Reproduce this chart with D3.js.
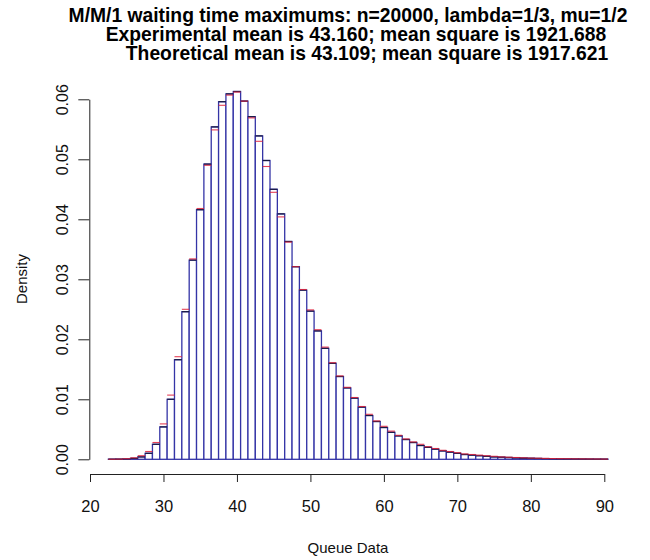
<!DOCTYPE html>
<html><head><meta charset="utf-8">
<script src="https://cdn.jsdelivr.net/npm/d3@7"></script>
<style>
body{margin:0;background:#fff;}
text{font-family:"Liberation Sans",Arial,Helvetica,sans-serif;}
</style>
</head><body>
<svg id="chart" width="650" height="560"></svg>
<script>
const bins = d3.range(23, 91);
const experimental = [0.00002,0.00003,0.00006,0.00015,0.0004,0.0010,0.0025,0.0054,0.0100,0.0166,
0.0246,0.0332,0.0416,0.0492,0.0554,0.0596,0.0609,0.0613,0.0597,0.0571,
0.0539,0.0498,0.0450,0.0409,0.0363,0.0321,0.0282,0.0247,0.0214,0.0185,
0.0160,0.0138,0.0119,0.0102,0.0087,0.0073,0.0063,0.0053,0.0045,0.0039,
0.0033,0.0028,0.0023,0.0020,0.0017,0.0014,0.0012,0.0010,0.0008,0.0007,
0.0006,0.0005,0.0004,0.00035,0.0003,0.00025,0.0002,0.00017,0.00014,0.00012,
0.0001,0.00008,0.00007,0.00006,0.00005,0.00004,0.00003,0.00003];
const theoretical = [0.00001,0.00003,0.0001,0.00025,0.0006,0.0013,0.0028,0.0059,0.0107,0.0171,
0.0250,0.0334,0.0418,0.0490,0.0549,0.0590,0.0607,0.0612,0.0597,0.0569,
0.0530,0.0488,0.0445,0.0404,0.0362,0.0321,0.0283,0.0249,0.0216,0.0187,
0.0161,0.0139,0.0120,0.0103,0.0088,0.0075,0.0064,0.0055,0.0047,0.0040,
0.0034,0.0029,0.0025,0.0021,0.0018,0.0015,0.0013,0.0011,0.0009,0.0008,
0.0007,0.0006,0.0005,0.0004,0.00035,0.0003,0.00025,0.0002,0.00018,0.00015,
0.00013,0.00011,0.0001,0.00008,0.00007,0.00006,0.00005,0.00004];
const xTicks = [20,30,40,50,60,70,80,90];
const yTicks = [0,0.01,0.02,0.03,0.04,0.05,0.06];
const titleLines = ["M/M/1 waiting time maximums: n=20000, lambda=1/3, mu=1/2",
 "Experimental mean is 43.160; mean square is 1921.688",
 "Theoretical mean is 43.109; mean square is 1917.621"];

const svg = d3.select("#chart");
const x = d3.scaleLinear().domain([20, 90]).range([90, 604.3]);
const y = d3.scaleLinear().domain([0, 0.06]).range([459.3, 99.3]);

const data = bins.map((b, i) => ({b, e: experimental[i], t: theoretical[i]}));

// bars
svg.append("g").selectAll("rect").data(data).join("rect")
  .attr("x", d => x(d.b - 0.5))
  .attr("y", d => y(d.e))
  .attr("width", d => x(d.b + 0.5) - x(d.b - 0.5))
  .attr("height", d => y(0) - y(d.e))
  .attr("fill", "#fff")
  .attr("stroke", "#3434a6")
  .attr("stroke-width", 1.3);

// dark tops
svg.append("g").selectAll("line").data(data).join("line")
  .attr("x1", d => x(d.b - 0.5)).attr("x2", d => x(d.b + 0.5))
  .attr("y1", d => y(d.e)).attr("y2", d => y(d.e))
  .attr("stroke", "#1a1a40").attr("stroke-width", 1.2);

// theoretical red segments
svg.append("g").selectAll("line").data(data).join("line")
  .attr("x1", d => x(d.b - 0.5)).attr("x2", d => x(d.b + 0.5))
  .attr("y1", d => y(d.t)).attr("y2", d => y(d.t))
  .attr("stroke", "#e0203a").attr("stroke-width", 1.1).attr("opacity", 0.85);

// x axis
const xa = svg.append("g").attr("transform", "translate(0,474)")
  .call(d3.axisBottom(x).tickValues(xTicks).tickFormat(d3.format("d"))
    .tickSize(8).tickSizeOuter(0).tickPadding(18));
xa.select(".domain").attr("stroke", "#222");
xa.selectAll(".tick line").attr("stroke", "#222");
xa.selectAll("text").attr("font-size", 16.5).attr("fill", "#111")
  .attr("font-family", "Liberation Sans, Arial, sans-serif");

// y axis
const ya = svg.append("g").attr("transform", "translate(89.3,0)")
  .call(d3.axisLeft(y).tickValues(yTicks).tickFormat(d3.format(".2f"))
    .tickSize(11).tickSizeOuter(0));
ya.select(".domain").attr("stroke", "#222");
ya.selectAll(".tick line").attr("stroke", "#222");
ya.selectAll("text")
  .attr("font-size", 16).attr("fill", "#111")
  .attr("font-family", "Liberation Sans, Arial, sans-serif")
  .attr("text-anchor", "middle")
  .attr("x", 0).attr("dy", 0)
  .attr("transform", "translate(-21,0) rotate(-90)")
  .attr("y", 0);

// axis titles
svg.append("text").attr("x", 348).attr("y", 553).attr("text-anchor", "middle")
  .attr("font-size", 15).attr("fill", "#111").text("Queue Data");
svg.append("text").attr("transform", "translate(27,279) rotate(-90)")
  .attr("text-anchor", "middle").attr("font-size", 15).attr("fill", "#111").text("Density");

// title
const titleX = [348, 356, 367];
svg.append("g").selectAll("text").data(titleLines).join("text")
  .attr("x", (d, i) => titleX[i]).attr("y", (d, i) => 22 + i * 19)
  .attr("text-anchor", "middle").attr("font-weight", "bold").attr("font-size", 19.3)
  .attr("fill", "#000").text(d => d);
</script>
</body></html>
